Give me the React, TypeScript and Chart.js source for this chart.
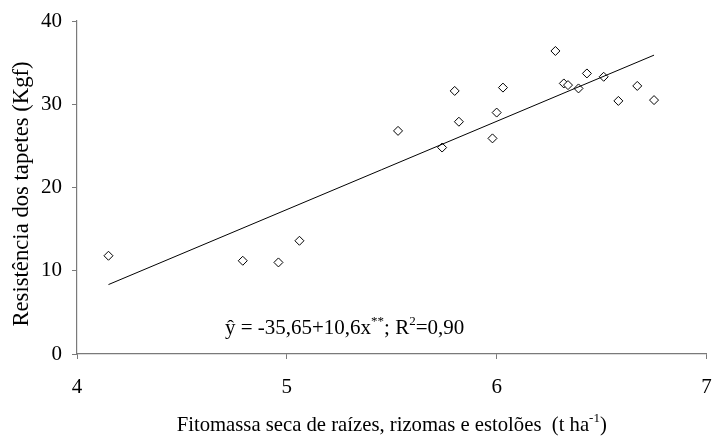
import React, { useEffect, useRef } from 'react';
import { Chart, registerables } from 'chart.js';

Chart.register(...registerables);

const fitomassa = [4.15, 4.79, 4.96, 5.06, 5.53, 5.74, 5.8, 5.82, 5.98, 6.0, 6.03, 6.28, 6.32, 6.34, 6.39, 6.43, 6.51, 6.58, 6.67, 6.75];
const resistencia = [11.8, 11.2, 11.0, 13.6, 26.8, 24.8, 31.6, 27.9, 25.9, 29.0, 32.0, 36.4, 32.5, 32.3, 31.9, 33.7, 33.3, 30.4, 32.2, 30.5];

// Fitted line end points
const lineX = [4.15, 6.75];
const lineY = [8.34, 35.9];

const xTicks = [4, 5, 6, 7];
const yTicks = [0, 10, 20, 30, 40];

const yTitle = 'Resistência dos tapetes (Kgf)';
const xTitleRuns = [
  { t: 'Fitomassa seca de raízes, rizomas e estolões  (t ha', sup: false },
  { t: '-1', sup: true },
  { t: ')', sup: false },
];
const eqRuns = [
  { t: 'ŷ = -35,65+10,6x', sup: false },
  { t: '**', sup: true },
  { t: '; R', sup: false },
  { t: '2', sup: true },
  { t: '=0,90', sup: false },
];

const FONT = "'Liberation Serif', 'Times New Roman', serif";
const TICK = 21;
const AXIS = '#7a7a7a';

function drawRuns(ctx: CanvasRenderingContext2D, runs: { t: string; sup: boolean }[], x0: number, base: number, center: boolean, size: number) {
  const sup = Math.round(size * 0.62);
  let total = 0;
  for (const r of runs) {
    ctx.font = `${r.sup ? sup : size}px ${FONT}`;
    total += ctx.measureText(r.t).width;
  }
  let x = center ? x0 - total / 2 : x0;
  for (const r of runs) {
    ctx.font = `${r.sup ? sup : size}px ${FONT}`;
    ctx.fillText(r.t, x, r.sup ? base - size * 0.42 : base);
    x += ctx.measureText(r.t).width;
  }
}

const textPlugin = {
  id: 'texts',
  afterDraw(chart: any) {
    const ctx: CanvasRenderingContext2D = chart.ctx;
    const xs = chart.scales.x;
    const ys = chart.scales.y;
    ctx.save();
    ctx.fillStyle = '#000';
    ctx.textAlign = 'left';
    ctx.textBaseline = 'alphabetic';
    drawRuns(ctx, eqRuns, xs.getPixelForValue(4.705), ys.getPixelForValue(2.45), false, 21);
    const ca = chart.chartArea;
    drawRuns(ctx, xTitleRuns, (ca.left + ca.right) / 2, chart.height - 5, true, 20.7);
    // y axis title
    ctx.save();
    ctx.translate(22, (ca.top + ca.bottom) / 2 + 6.5);
    ctx.rotate(-Math.PI / 2);
    ctx.textAlign = 'center';
    ctx.textBaseline = 'middle';
    ctx.font = `22.7px ${FONT}`;
    ctx.fillText(yTitle, 0, 0);
    ctx.restore();
    ctx.restore();
  },
};

export default function App() {
  const ref = useRef<HTMLCanvasElement | null>(null);
  useEffect(() => {
    if (!ref.current) return;
    const chart = new Chart(ref.current, {
      type: 'scatter',
      data: {
        datasets: [
          {
            type: 'line',
            data: lineX.map((x, i) => ({ x, y: lineY[i] })),
            borderColor: '#000',
            borderWidth: 1,
            pointRadius: 0,
            fill: false,
            tension: 0,
          } as any,
          {
            data: fitomassa.map((x, i) => ({ x, y: resistencia[i] })),
            pointStyle: 'rectRot',
            pointRadius: 4.5,
            pointBackgroundColor: '#fff',
            pointBorderColor: '#000',
            pointBorderWidth: 1,
            showLine: false,
          },
        ],
      },
      options: {
        animation: false,
        responsive: false,
        maintainAspectRatio: false,
        layout: { padding: { left: 0, top: 21, right: 4, bottom: 0 } },
        plugins: { legend: { display: false }, tooltip: { enabled: false } },
        scales: {
          x: {
            type: 'linear',
            min: 4,
            max: 7,
            afterFit: (s: any) => { s.height = 82; s.paddingLeft = 0; s.paddingRight = 0; },
            afterBuildTicks: (s: any) => { s.ticks = xTicks.map((v) => ({ value: v })); },
            grid: { drawOnChartArea: false, drawTicks: true, tickLength: 5, color: AXIS, lineWidth: 1 },
            border: { color: AXIS, width: 1.2 },
            ticks: { color: '#000', font: { family: FONT, size: TICK }, padding: 16, maxRotation: 0 },
            title: { display: false },
          },
          y: {
            type: 'linear',
            min: 0,
            max: 40,
            afterFit: (s: any) => { s.width = 77; s.paddingTop = 0; s.paddingBottom = 0; },
            afterBuildTicks: (s: any) => { s.ticks = yTicks.map((v) => ({ value: v })); },
            grid: { drawOnChartArea: false, drawTicks: true, tickLength: 5, color: AXIS, lineWidth: 1 },
            border: { color: AXIS, width: 1.2 },
            ticks: { color: '#000', font: { family: FONT, size: TICK }, padding: 10 },
            title: { display: false },
          },
        },
      },
      plugins: [textPlugin],
    });
    return () => chart.destroy();
  }, []);
  return (
    <div style={{ position: 'fixed', left: 0, top: 0, width: 712, height: 436, background: '#fff' }}>
      <canvas ref={ref} width={712} height={436} style={{ width: 712, height: 436 }} />
    </div>
  );
}
